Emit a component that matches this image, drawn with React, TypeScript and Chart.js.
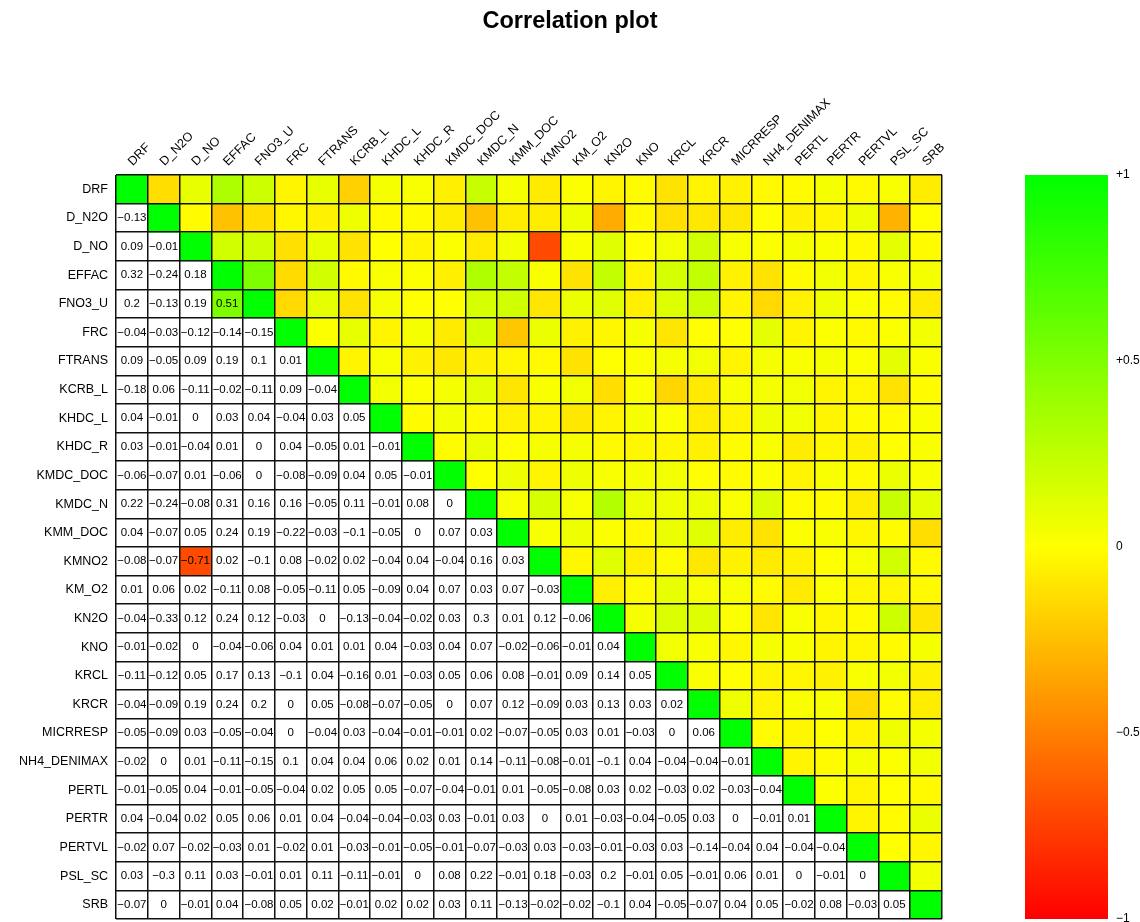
import React, { useEffect, useRef } from "react";
import { Chart, registerables } from "chart.js";

Chart.register(...registerables);

// Variable names (rows top-to-bottom, columns left-to-right)
const variables = [
  "DRF", "D_N2O", "D_NO", "EFFAC", "FNO3_U", "FRC", "FTRANS", "KCRB_L",
  "KHDC_L", "KHDC_R", "KMDC_DOC", "KMDC_N", "KMM_DOC", "KMNO2", "KM_O2",
  "KN2O", "KNO", "KRCL", "KRCR", "MICRRESP", "NH4_DENIMAX", "PERTL",
  "PERTR", "PERTVL", "PSL_SC", "SRB",
];

// Lower triangle of the correlation matrix: row i holds r(i, 0..i-1)
const lowerRows: number[][] = [
  [],
  [-0.13],
  [0.09, -0.01],
  [0.32, -0.24, 0.18],
  [0.2, -0.13, 0.19, 0.51],
  [-0.04, -0.03, -0.12, -0.14, -0.15],
  [0.09, -0.05, 0.09, 0.19, 0.1, 0.01],
  [-0.18, 0.06, -0.11, -0.02, -0.11, 0.09, -0.04],
  [0.04, -0.01, 0, 0.03, 0.04, -0.04, 0.03, 0.05],
  [0.03, -0.01, -0.04, 0.01, 0, 0.04, -0.05, 0.01, -0.01],
  [-0.06, -0.07, 0.01, -0.06, 0, -0.08, -0.09, 0.04, 0.05, -0.01],
  [0.22, -0.24, -0.08, 0.31, 0.16, 0.16, -0.05, 0.11, -0.01, 0.08, 0],
  [0.04, -0.07, 0.05, 0.24, 0.19, -0.22, -0.03, -0.1, -0.05, 0, 0.07, 0.03],
  [-0.08, -0.07, -0.71, 0.02, -0.1, 0.08, -0.02, 0.02, -0.04, 0.04, -0.04, 0.16, 0.03],
  [0.01, 0.06, 0.02, -0.11, 0.08, -0.05, -0.11, 0.05, -0.09, 0.04, 0.07, 0.03, 0.07, -0.03],
  [-0.04, -0.33, 0.12, 0.24, 0.12, -0.03, 0, -0.13, -0.04, -0.02, 0.03, 0.3, 0.01, 0.12, -0.06],
  [-0.01, -0.02, 0, -0.04, -0.06, 0.04, 0.01, 0.01, 0.04, -0.03, 0.04, 0.07, -0.02, -0.06, -0.01, 0.04],
  [-0.11, -0.12, 0.05, 0.17, 0.13, -0.1, 0.04, -0.16, 0.01, -0.03, 0.05, 0.06, 0.08, -0.01, 0.09, 0.14, 0.05],
  [-0.04, -0.09, 0.19, 0.24, 0.2, 0, 0.05, -0.08, -0.07, -0.05, 0, 0.07, 0.12, -0.09, 0.03, 0.13, 0.03, 0.02],
  [-0.05, -0.09, 0.03, -0.05, -0.04, 0, -0.04, 0.03, -0.04, -0.01, -0.01, 0.02, -0.07, -0.05, 0.03, 0.01, -0.03, 0, 0.06],
  [-0.02, 0, 0.01, -0.11, -0.15, 0.1, 0.04, 0.04, 0.06, 0.02, 0.01, 0.14, -0.11, -0.08, -0.01, -0.1, 0.04, -0.04, -0.04, -0.01],
  [-0.01, -0.05, 0.04, -0.01, -0.05, -0.04, 0.02, 0.05, 0.05, -0.07, -0.04, -0.01, 0.01, -0.05, -0.08, 0.03, 0.02, -0.03, 0.02, -0.03, -0.04],
  [0.04, -0.04, 0.02, 0.05, 0.06, 0.01, 0.04, -0.04, -0.04, -0.03, 0.03, -0.01, 0.03, 0, 0.01, -0.03, -0.04, -0.05, 0.03, 0, -0.01, 0.01],
  [-0.02, 0.07, -0.02, -0.03, 0.01, -0.02, 0.01, -0.03, -0.01, -0.05, -0.01, -0.07, -0.03, 0.03, -0.03, -0.01, -0.03, 0.03, -0.14, -0.04, 0.04, -0.04, -0.04],
  [0.03, -0.3, 0.11, 0.03, -0.01, 0.01, 0.11, -0.11, -0.01, 0, 0.08, 0.22, -0.01, 0.18, -0.03, 0.2, -0.01, 0.05, -0.01, 0.06, 0.01, 0, -0.01, 0],
  [-0.07, 0, -0.01, 0.04, -0.08, 0.05, 0.02, -0.01, 0.02, 0.02, 0.03, 0.11, -0.13, -0.02, -0.02, -0.1, 0.04, -0.05, -0.07, 0.04, 0.05, -0.02, 0.08, -0.03, 0.05],
];

// Colour key ticks
const colorbarTicks = [-1, -0.5, 0, 0.5, 1];
const colorbarLabels = ["\u22121", "\u22120.5", "0", "+0.5", "+1"];

// Lower-triangle cells are only filled when |r| reaches this value
const FILL_THRESHOLD = 0.5;

const FONT = "'Liberation Sans', Arial, Helvetica, sans-serif";

function corr(r: number, c: number): number {
  if (r === c) return 1;
  return r > c ? lowerRows[r][c] : lowerRows[c][r];
}

// red (-1) -> yellow (0) -> green (+1)
function corrColor(v: number): string {
  if (v >= 0) {
    const red = Math.round(255 * (1 - v));
    return `rgb(${red},255,0)`;
  }
  const green = Math.round(255 * (1 + v));
  return `rgb(255,${green},0)`;
}

function cellFill(r: number, c: number): string {
  const v = corr(r, c);
  if (r > c && Math.abs(v) < FILL_THRESHOLD) return "#ffffff";
  return corrColor(v);
}

function formatValue(v: number): string {
  const s = String(Math.abs(v));
  return v < 0 ? "\u2212" + s : s;
}

const cellTextPlugin = {
  id: "cellText",
  afterDatasetsDraw(chart: any) {
    const { ctx } = chart;
    const x = chart.scales.x;
    const y = chart.scales.y;
    ctx.save();
    ctx.font = `11.5px ${FONT}`;
    ctx.textAlign = "center";
    ctx.textBaseline = "middle";
    ctx.fillStyle = "#000";
    lowerRows.forEach((row, r) => {
      row.forEach((v, c) => {
        ctx.fillText(formatValue(v), x.getPixelForValue(c), y.getPixelForValue(r + 0.5));
      });
    });
    ctx.restore();
  },
};

const colorbarPlugin = {
  id: "colorbar",
  afterDraw(chart: any) {
    const { ctx } = chart;
    const cb = chart.scales.cb;
    const top = cb.getPixelForValue(1);
    const bottom = cb.getPixelForValue(-1);
    const x0 = cb.left + 83;
    const x1 = cb.left + 166;
    const grad = ctx.createLinearGradient(0, top, 0, bottom);
    grad.addColorStop(0, corrColor(1));
    grad.addColorStop(0.5, corrColor(0));
    grad.addColorStop(1, corrColor(-1));
    ctx.save();
    ctx.fillStyle = grad;
    ctx.fillRect(x0, top, x1 - x0, bottom - top);
    ctx.restore();
  },
};

export default function App() {
  const canvasRef = useRef<HTMLCanvasElement | null>(null);

  useEffect(() => {
    if (!canvasRef.current) return;
    Chart.defaults.font.family = FONT;
    Chart.defaults.color = "#000";

    const n = variables.length;
    const datasets = variables.map((_, r) => ({
      label: variables[r],
      data: variables.map(() => [r, r + 1]),
      backgroundColor: variables.map((__, c) => cellFill(r, c)),
      borderWidth: 0,
      grouped: false,
      barPercentage: 1,
      categoryPercentage: 1,
      xAxisID: "x",
      yAxisID: "y",
    }));

    const gridColor = "#111";

    const chart = new Chart(canvasRef.current, {
      type: "bar",
      data: { labels: variables, datasets: datasets as any },
      options: {
        responsive: false,
        animation: false,
        layout: { padding: { top: 0, left: 0, right: 0, bottom: 3 } },
        plugins: {
          legend: { display: false },
          tooltip: { enabled: false },
          title: {
            display: true,
            text: "Correlation plot",
            color: "#000",
            font: { size: 23.5, weight: "bold", family: FONT, lineHeight: 1.2 },
            padding: { top: 7, bottom: 0 },
          },
        },
        scales: {
          x: {
            type: "category",
            position: "top",
            offset: true,
            grid: { display: true, offset: true, color: gridColor, lineWidth: 1.5, drawTicks: false, z: 1 },
            border: { display: false },
            ticks: {
              autoSkip: false,
              minRotation: 45,
              maxRotation: 45,
              padding: 6,
              labelOffset: 9,
              font: { size: 12.5, family: FONT },
              color: "#000",
            },
            afterFit(scale: any) {
              scale.height = 139.8;
            },
          },
          y: {
            type: "linear",
            position: "left",
            min: 0,
            max: n,
            reverse: true,
            grid: { display: true, offset: true, color: gridColor, lineWidth: 1.5, drawTicks: false, z: 1 },
            border: { display: false },
            afterBuildTicks(scale: any) {
              scale.ticks = variables.map((_, i) => ({ value: i + 0.5 }));
            },
            ticks: {
              autoSkip: false,
              padding: 8,
              font: { size: 12.5, family: FONT },
              color: "#000",
              callback: (value: any) => variables[Math.floor(Number(value))],
            },
            afterFit(scale: any) {
              scale.width = 116;
              scale.paddingTop = 0;
              scale.paddingBottom = 0;
            },
          },
          cb: {
            type: "linear",
            position: "right",
            min: -1,
            max: 1,
            grid: {
              display: true,
              drawOnChartArea: false,
              drawTicks: true,
              tickLength: 170,
              color: "rgba(0,0,0,0)",
            },
            border: { display: false },
            afterBuildTicks(scale: any) {
              scale.ticks = colorbarTicks.map((v) => ({ value: v }));
            },
            ticks: {
              autoSkip: false,
              padding: 4,
              font: { size: 12, family: FONT },
              color: "#000",
              callback: (value: any) => colorbarLabels[colorbarTicks.indexOf(Number(value))],
            },
            afterFit(scale: any) {
              scale.width = 198;
              scale.paddingTop = 0;
              scale.paddingBottom = 0;
            },
          },
        },
      } as any,
      plugins: [cellTextPlugin, colorbarPlugin],
    });

    return () => chart.destroy();
  }, []);

  return (
    <div style={{ position: "fixed", left: 0, top: 0, width: 1140, height: 922, background: "#fff" }}>
      <canvas ref={canvasRef} width={1140} height={922} style={{ display: "block" }} />
    </div>
  );
}
